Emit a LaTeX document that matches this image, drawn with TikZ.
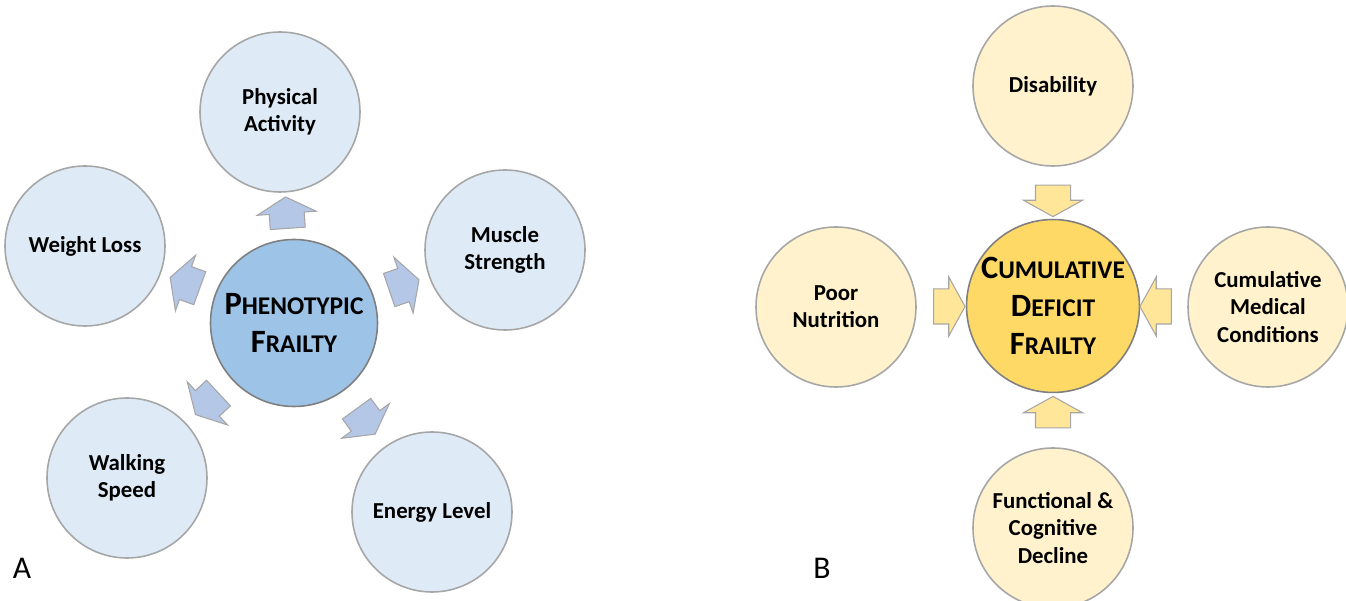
\documentclass[tikz,border=0pt]{standalone}
\usepackage{fontspec}
\setmainfont{Carlito}
\usetikzlibrary{positioning,calc,shapes.arrows}

\definecolor{blueout}{HTML}{DEEBF7}
\definecolor{bluemid}{HTML}{9DC3E6}
\definecolor{bluearr}{HTML}{B4C7E7}
\definecolor{yelout}{HTML}{FFF2CC}
\definecolor{yelmid}{HTML}{FFD966}
\definecolor{yelarr}{HTML}{FFE699}
\definecolor{rim}{HTML}{A6A6A6}
\definecolor{rimdark}{HTML}{7F7F7F}

\newcommand{\bigsc}[2]{{\fontsize{18.5}{21.5}\selectfont #1}{\fontsize{14.5}{21.5}\selectfont #2}}

\tikzset{
  outer/.style={circle, draw=rim, line width=0.9pt, minimum size=3.2cm, inner sep=0pt,
    align=center, font=\bfseries\fontsize{13}{15.5}\selectfont},
  middle/.style={circle, draw=rimdark, line width=0.9pt, minimum size=3.34cm, inner sep=0pt,
    align=center, font=\bfseries\fontsize{18.5}{21.5}\selectfont},
  blockarr/.style={single arrow, draw=rim, line width=0.6pt, rotate=#1,
    inner xsep=0pt, inner ysep=0.34cm, minimum height=0.63cm,
    single arrow head extend=0.24cm, single arrow tip angle=122},
  panel/.style={font=\fontsize{18}{20}\selectfont, inner sep=0pt}
}

\begin{document}
\begin{tikzpicture}
	\useasboundingbox (0,0) rectangle (26.92,-12.02);

	% A: phenotypic frailty
	\begin{scope}
		\node[middle, fill=bluemid] (pf) at (5.88, -6.46) {\bigsc{P}{HENOTYPIC}\\\bigsc{F}{RAILTY}};
		\node[outer, fill=blueout] (pa) at (5.60, -2.24)  {Physical\\Activity};
		\node[outer, fill=blueout] (ms) at (10.10, -5.00) {Muscle\\Strength};
		\node[outer, fill=blueout] (wl) at (1.70, -4.92)  {Weight Loss};
		\node[outer, fill=blueout] (ws) at (2.54, -9.56)  {Walking\\Speed};
		\node[outer, fill=blueout] (el) at (8.64, -10.24) {Energy Level};

		\node[blockarr=94, fill=bluearr]  (pfpa) at ($(pf)!0.5!(pa)$) {};
		\node[blockarr=19, fill=bluearr]  (pfms) at ($(pf)!0.5!(ms)$) {};
		\node[blockarr=160, fill=bluearr] (pfwl) at ($(pf)!0.5!(wl)$) {};
		\node[blockarr=223, fill=bluearr] (pfws) at ($(pf)!0.5!(ws)$) {};
		\node[blockarr=-54, fill=bluearr] (pfel) at ($(pf)!0.5!(el)$) {};

		\node[panel] (la) at (0.44, -11.37) {A};
	\end{scope}

	% B: cumulative deficit frailty
	\begin{scope}
		\node[middle, fill=yelmid] (cdf) at (21.06, -6.12) {\bigsc{C}{UMULATIVE}\\\bigsc{D}{EFICIT}\\\bigsc{F}{RAILTY}};
		\node[outer, fill=yelout] (dis) at (21.06, -1.72) {Disability};
		\node[outer, fill=yelout] (pn)  at (16.72, -6.14) {Poor\\Nutrition};
		\node[outer, fill=yelout] (cmc) at (25.36, -6.14) {Cumulative\\Medical\\Conditions};
		\node[outer, fill=yelout] (fcd) at (21.06, -10.56) {Functional \&\\Cognitive\\Decline};

		\node[blockarr=270, fill=yelarr] (discdf) at ($(dis)!0.5!(cdf)$) {};
		\node[blockarr=0, fill=yelarr]   (pncdf)  at ($(pn)!0.5!(cdf)$) {};
		\node[blockarr=180, fill=yelarr] (cmccdf) at ($(cmc)!0.5!(cdf)$) {};
		\node[blockarr=90, fill=yelarr]  (fcdcdf) at ($(fcd)!0.5!(cdf)$) {};

		\node[panel] (lb) at (16.44, -11.37) {B};
	\end{scope}
\end{tikzpicture}
\end{document}
